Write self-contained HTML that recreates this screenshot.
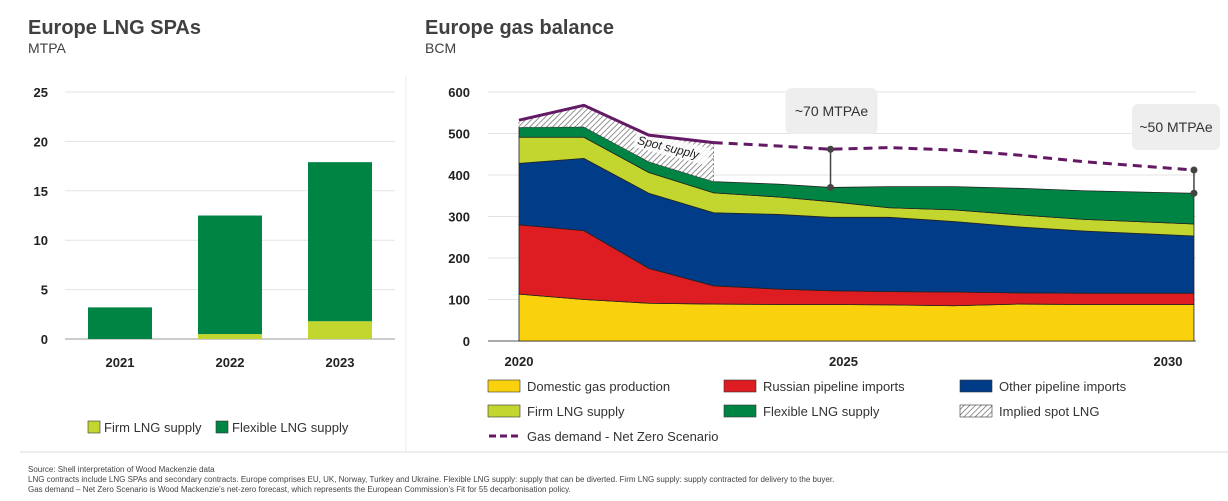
<!DOCTYPE html>
<html><head><meta charset="utf-8"><style>
body{margin:0;background:#fff;font-family:"Liberation Sans",sans-serif;color:#333}
svg{display:block}
</style></head><body>
<svg width="1228" height="501" viewBox="0 0 1228 501" xmlns="http://www.w3.org/2000/svg" font-family="Liberation Sans, sans-serif">
<defs><pattern id="hatch" width="4" height="4" patternUnits="userSpaceOnUse" patternTransform="rotate(45)"><rect width="4" height="4" fill="#fff"/><line x1="0" y1="0" x2="0" y2="4" stroke="#666" stroke-width="1.4"/></pattern></defs>
<text x="28" y="34" font-size="20" font-weight="bold" fill="#404040">Europe LNG SPAs</text>
<text x="28" y="53" font-size="14" fill="#404040">MTPA</text>
<text x="425" y="34" font-size="20" font-weight="bold" fill="#404040">Europe gas balance</text>
<text x="425" y="53" font-size="14" fill="#404040">BCM</text>
<line x1="406" y1="75" x2="406" y2="452" stroke="#eee"/>
<line x1="20" y1="452" x2="1228" y2="452" stroke="#ddd"/>
<g id="left"></g>
<g id="right"></g>
<g font-size="13" fill="#333">
<rect x="88" y="421" width="12" height="12" fill="#c3d52f" stroke="#333" stroke-width="0.6"/>
<text x="104" y="432">Firm LNG supply</text>
<rect x="216" y="421" width="12" height="12" fill="#008443" stroke="#333" stroke-width="0.6"/>
<text x="232" y="432">Flexible LNG supply</text>
</g>
<g font-size="13" fill="#333">
<rect x="488" y="380" width="32" height="12" fill="#f9d10c" stroke="#333" stroke-width="0.6"/><text x="527" y="391">Domestic gas production</text>
<rect x="724" y="380" width="32" height="12" fill="#dd1d21" stroke="#333" stroke-width="0.6"/><text x="763" y="391">Russian pipeline imports</text>
<rect x="960" y="380" width="32" height="12" fill="#003c88" stroke="#333" stroke-width="0.6"/><text x="999" y="391">Other pipeline imports</text>
<rect x="488" y="405" width="32" height="12" fill="#c3d52f" stroke="#333" stroke-width="0.6"/><text x="527" y="416">Firm LNG supply</text>
<rect x="724" y="405" width="32" height="12" fill="#008443" stroke="#333" stroke-width="0.6"/><text x="763" y="416">Flexible LNG supply</text>
<rect x="960" y="405" width="32" height="12" fill="url(#hatch)" stroke="#333" stroke-width="0.6"/><text x="999" y="416">Implied spot LNG</text>
<line x1="489" y1="436" x2="521" y2="436" stroke="#641964" stroke-width="3" stroke-dasharray="7,4"/><text x="527" y="441">Gas demand - Net Zero Scenario</text>
</g>
<g font-size="8" fill="#444">
<text x="28" y="472">Source: Shell interpretation of Wood Mackenzie data</text>
<text x="28" y="482">LNG contracts include LNG SPAs and secondary contracts. Europe comprises EU, UK, Norway, Turkey and Ukraine. Flexible LNG supply: supply that can be diverted. Firm LNG supply: supply contracted for delivery to the buyer.</text>
<text x="28" y="492">Gas demand – Net Zero Scenario is Wood Mackenzie’s net-zero forecast, which represents the European Commission’s Fit for 55 decarbonisation policy.</text>
</g>
</svg>
<script>
const NS="http://www.w3.org/2000/svg";
// left chart data
const lYears=["2021","2022","2023"];
const lFirm=[0,0.5,1.8];
const lTotal=[3.2,12.5,17.9];
const lTicks=[0,5,10,15,20,25];
// right chart data
const rYears=[2020,2021,2022,2023,2024,2024.8,2025.7,2026.7,2027.7,2028.7,2030.4];
const domestic=[113,100,91,89,88,88,87,85,89,88,88];
const russian=[167,166,84,44,37,33,32,33,27,27,27];
const otherPipe=[148,174,181,176,180,177,179,170,159,150,138];
const firmLng=[63,51,50,48,42,38,23,28,29,28,29];
const flexLng=[24,25,26,27,31,34,51,56,64,69,74];
const demand=[532,568,496,478,470,462,466,460,448,432,412];
const rTicks=[0,100,200,300,400,500,600];
const xLabels=[2020,2025,2030];
const markerIdx=[5,10];
const markerLabels=['~70 MTPAe','~50 MTPAe'];
function el(t,a,p){const e=document.createElementNS(NS,t);for(const k in a)e.setAttribute(k,a[k]);p.appendChild(e);return e;}
// Left
const L=document.getElementById('left');
const ly=v=>339-v*9.88;
lTicks.forEach(t=>{
 const g=el('line',{x1:65,x2:395,y1:ly(t),y2:ly(t),stroke:t?'#e3e3e3':'#999'},L);
 
 
 const tx=el('text',{x:48,y:ly(t)+5,'text-anchor':'end','font-size':13,'font-weight':'bold',fill:'#222'},L);tx.textContent=t;
 
 
});
lYears.forEach((y,i)=>{
 const cx=120+i*110;
 const f=el('rect',{x:cx-32,y:ly(lFirm[i]),width:64,height:lFirm[i]*9.88,fill:'#c3d52f'},L);
 
 
 const b=el('rect',{x:cx-32,y:ly(lTotal[i]),width:64,height:(lTotal[i]-lFirm[i])*9.88,fill:'#008443'},L);
 
 
 const tx=el('text',{x:cx,y:367,'text-anchor':'middle','font-size':13,'font-weight':'bold',fill:'#222'},L);tx.textContent=y;
 
 
});
// Right
const R=document.getElementById('right');
const rx=yr=>519+(yr-2020)*64.9;
const ry=v=>341-v*0.415;
rTicks.forEach(t=>{
 const g=el('line',{x1:488,x2:1196,y1:ry(t),y2:ry(t),stroke:t?'#e3e3e3':'#555'},R);
 
 
 const tx=el('text',{x:470,y:ry(t)+5,'text-anchor':'end','font-size':13,'font-weight':'bold',fill:'#222'},R);tx.textContent=t;
 
 
});
const layers=[[domestic,'#f9d10c','area-domestic'],[russian,'#dd1d21','area-russian'],[otherPipe,'#003c88','area-other-pipeline'],[firmLng,'#c3d52f','area-firm-lng'],[flexLng,'#008443','area-flexible-lng']];
let base=rYears.map(()=>0);
layers.forEach(([vals,col,name])=>{
 const top=base.map((b,i)=>b+vals[i]);
 let d='M'+rYears.map((y,i)=>rx(y)+','+ry(top[i])).join(' L');
 d+=' L'+rYears.map((y,i)=>rx(y)+','+ry(base[i])).reverse().join(' L')+'Z';
 const p=el('path',{d:d,fill:col,stroke:'#222','stroke-width':0.8},R);
 
 
 base=top;
});
// spot hatch 2020-2023
const n=4;
let sd='M'+rYears.slice(0,n).map((y,i)=>rx(y)+','+ry(demand[i])).join(' L');
sd+=' L'+rYears.slice(0,n).map((y,i)=>rx(y)+','+ry(base[i])).reverse().join(' L')+'Z';
const sp=el('path',{d:sd,fill:'url(#hatch)',stroke:'#555','stroke-width':0.6,'stroke-dasharray':'2,2'},R);


const sx=rx(2022)-12, sy=ry(base[2])-18;
el('rect',{x:sx-3,y:sy-13,width:76,height:17,fill:'#fff',opacity:0.85,transform:`rotate(14 ${sx} ${sy})`},R);
const st=el('text',{x:0,y:0,'font-size':12,fill:'#222','font-style':'italic',transform:`translate(${sx},${sy}) rotate(14)`},R);st.textContent='Spot supply';


// demand line
const dl=el('path',{d:'M'+rYears.slice(0,n).map((y,i)=>rx(y)+','+ry(demand[i])).join(' L'),fill:'none',stroke:'#641964','stroke-width':3},R);


const dd=el('path',{d:'M'+rYears.slice(n-1).map((y,i)=>rx(y)+','+ry(demand[i+n-1])).join(' L'),fill:'none',stroke:'#641964','stroke-width':3,'stroke-dasharray':'9,6'},R);


// gap markers
markerIdx.forEach((i,k)=>{
 const x=rx(rYears[i]);
 el('line',{x1:x,x2:x,y1:ry(demand[i]),y2:ry(base[i]),stroke:'#444','stroke-width':1.5},R);
 el('circle',{cx:x,cy:ry(demand[i]),r:3.5,fill:'#444'},R);
 el('circle',{cx:x,cy:ry(base[i]),r:3.5,fill:'#444'},R);
 const bx=k===0?x-45:1132, by=k===0?88:104, w=k===0?92:88;
 const r=el('rect',{x:bx,y:by,width:w,height:46,rx:6,fill:'#eee'},R);
 
 
 const t=el('text',{x:bx+w/2,y:by+28,'text-anchor':'middle','font-size':14,fill:'#333'},R);t.textContent=markerLabels[k];
 
 
});
xLabels.forEach(y=>{
 const tx=el('text',{x:rx(y),y:366,'text-anchor':'middle','font-size':13,'font-weight':'bold',fill:'#222'},R);tx.textContent=y;
 
 
});
</script>
</body></html>
